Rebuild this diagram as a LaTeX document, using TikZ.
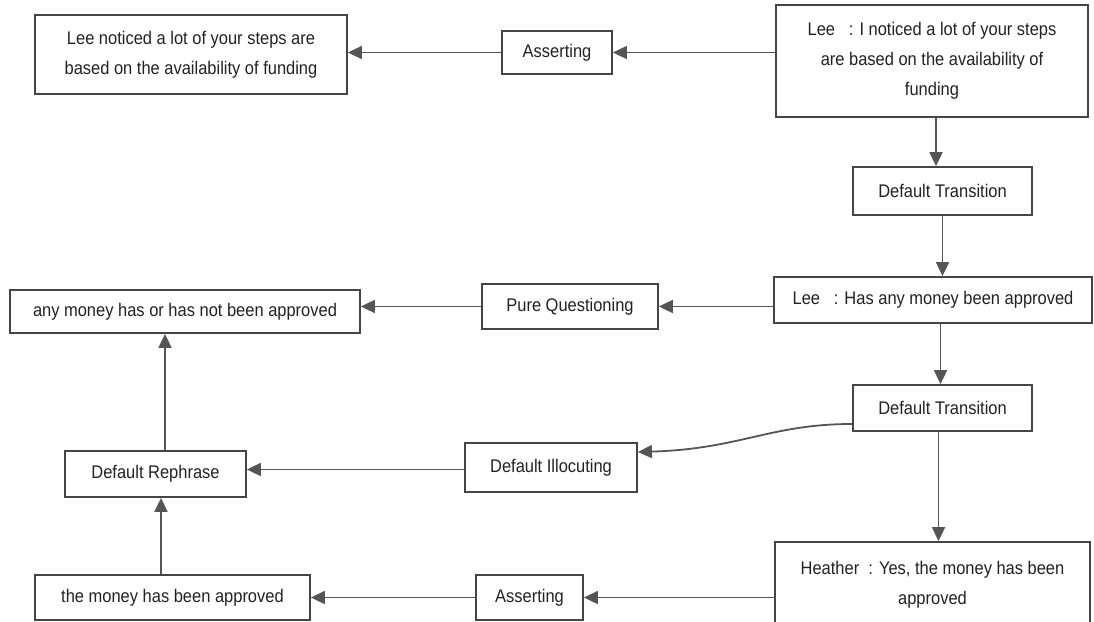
\documentclass[tikz,border=0pt]{standalone}
\usepackage{fontspec}
\setmainfont{Liberation Sans}[FakeStretch=0.9]
\usetikzlibrary{arrows.meta}
\definecolor{edgegray}{HTML}{555555}
\definecolor{boxgray}{HTML}{454545}
\definecolor{txtgray}{HTML}{222222}
\begin{document}
\begin{tikzpicture}[x=1pt,y=-1pt,
  box/.style={draw=boxgray,line width=1.8pt,fill=white,inner sep=0pt,
    align=center,text=txtgray,font=\fontsize{18.3}{30}\selectfont},
  arr/.style={draw=edgegray,line width=1.8pt,
    -{Triangle[length=14pt,width=13pt]}}]
\clip (0,0) rectangle (1094,621);
\useasboundingbox (0,0) rectangle (1094,621);
\fill[white] (0,0) rectangle (1094,621);

% statement and illocution nodes
\node[box,minimum width=312pt,minimum height=79pt] (A) at (191,54.5)
  {Lee noticed a lot of your steps are\\based on the availability of funding};
\node[box,minimum width=110pt,minimum height=43pt] (as1) at (557,52.5) {Asserting};
\node[box,minimum width=312pt,minimum height=112pt] (B) at (932,61)
  {Lee\ \ \ : I noticed a lot of your steps\\are based on the availability of\\funding};
\node[box,minimum width=179pt,minimum height=48pt] (dt1) at (942.5,191) {Default Transition};
\node[box,minimum width=318pt,minimum height=46pt] (C) at (933,300)
  {Lee\ \ \ : Has any money been approved};
\node[box,minimum width=176pt,minimum height=45pt] (pq) at (570,306.5) {Pure Questioning};
\node[box,minimum width=350pt,minimum height=43pt] (D) at (185,311.5)
  {any money has or has not been approved};
\node[box,minimum width=179pt,minimum height=46pt] (dt2) at (942.5,408) {Default Transition};
\node[box,minimum width=172pt,minimum height=49pt] (di) at (551,467.5) {Default Illocuting};
\node[box,minimum width=181pt,minimum height=46pt] (dr) at (155.5,474) {Default Rephrase};
\node[box,minimum width=315pt,minimum height=86pt] (E) at (932.5,585)
  {Heather\ \ : Yes, the money has been\\approved};
\node[box,minimum width=107pt,minimum height=45pt] (as2) at (529.5,597.5) {Asserting};
\node[box,minimum width=275pt,minimum height=45pt] (F) at (172.5,597.5)
  {the money has been approved};

% connectors
\draw[arr] (B.west |- as1.east) -- (as1.east);
\draw[arr] (as1.west) -- (A.east |- as1.west);
\draw[arr] ([xshift=4pt]B.south) -- ([xshift=4pt]B.south |- dt1.north);
\draw[arr] (dt1.south) -- (dt1.south |- C.north);
\draw[arr] (C.west |- pq.east) -- (pq.east);
\draw[arr] (pq.west) -- (D.east |- pq.west);
\draw[arr] ([xshift=-2pt]dt2.north |- C.south) -- ([xshift=-2pt]dt2.north);
\coordinate (dtout) at (dt2.west |- 0,424);
\coordinate (diin) at (di.east |- 0,452);
\draw[arr] (dtout) .. controls (770,424) and (740,449) .. (diin);
\draw[arr] ([yshift=-2pt]di.west) -- ([yshift=-2pt]dr.east |- di.west);
\draw[arr] ([xshift=9.5pt]dr.north) -- ([xshift=9.5pt]dr.north |- D.south);
\draw[arr] ([xshift=-4pt]dt2.south) -- ([xshift=-4pt]dt2.south |- E.north);
\draw[arr] (E.west |- as2.east) -- (as2.east);
\draw[arr] (as2.west) -- (F.east |- as2.west);
\draw[arr] ([xshift=-11.5pt]F.north) -- ([xshift=-11.5pt]F.north |- dr.south);
\end{tikzpicture}
\end{document}
